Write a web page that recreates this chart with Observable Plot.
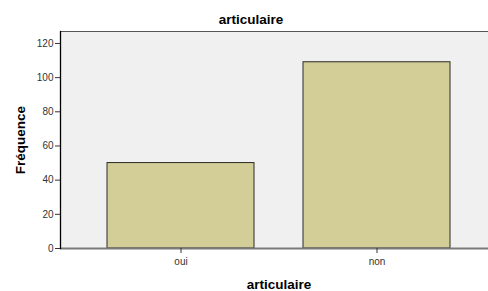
<!DOCTYPE html>
<html>
<head>
<meta charset="utf-8">
<script src="https://cdn.jsdelivr.net/npm/d3@7"></script>
<script src="https://cdn.jsdelivr.net/npm/@observablehq/plot@0.6"></script>
<style>
  html, body { margin: 0; padding: 0; background: #fff; overflow: hidden; }
  #chart { width: 488px; height: 291px; overflow: hidden; }
  #chart svg { max-width: none !important; display: block; }
</style>
</head>
<body>
<div id="chart"></div>
<script>
const categories = ["oui", "non"];
const counts = [50, 109];
const yTicks = [0, 20, 40, 60, 80, 100, 120];
const titleText = "articulaire";
const xLabel = "articulaire";
const yLabel = "Fréquence";

const data = categories.map((c, i) => ({cat: c, count: counts[i]}));

const chart = Plot.plot({
  width: 497,
  height: 291,
  marginLeft: 60,
  marginRight: 0,
  marginTop: 31,
  marginBottom: 43,
  style: {fontFamily: "'Liberation Sans', Arial, sans-serif", background: "#fff", maxWidth: "none"},
  x: {domain: categories, paddingInner: 0.249, paddingOuter: 0.234, label: null},
  y: {domain: [0, 127], label: null},
  marks: [
    Plot.frame({fill: "#f0f0f0", stroke: null}),
    Plot.frame({anchor: "top", stroke: "#555", strokeWidth: 1}),
    Plot.barY(data, {x: "cat", y: "count", fill: "#d3ce97", stroke: "#2a2a22", strokeWidth: 1}),
    Plot.ruleY([0], {stroke: "#7a7a7a", strokeWidth: 2}),
    Plot.frame({anchor: "left", stroke: "#000", strokeWidth: 1.3}),
    Plot.axisY({ticks: yTicks, tickSize: 5, tickPadding: 2, fontSize: 10, color: "#333", label: null}),
    Plot.axisX({tickSize: 5, tickPadding: 4, fontSize: 10, color: "#333", label: null}),
    Plot.text([titleText], {frameAnchor: "top", lineAnchor: "middle", textAnchor: "middle", dx: -28, dy: -12, fontWeight: "bold", fontSize: 13.5, fill: "#000"}),
    Plot.text([xLabel], {frameAnchor: "bottom", lineAnchor: "middle", textAnchor: "middle", dy: 36, fontWeight: "bold", fontSize: 13.5, fill: "#000"}),
    Plot.text([yLabel], {frameAnchor: "left", lineAnchor: "middle", textAnchor: "middle", dx: -40, rotate: -90, fontWeight: "bold", fontSize: 13.5, fill: "#000"})
  ]
});
document.getElementById("chart").appendChild(chart);
</script>
</body>
</html>
